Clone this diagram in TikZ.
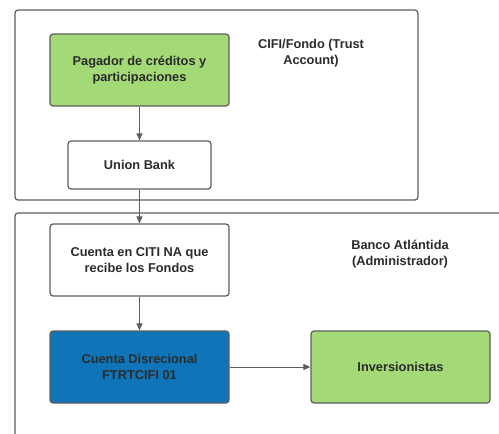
\documentclass[tikz,border=0pt]{standalone}
\usepackage{fontspec}
\setmainfont{Liberation Sans}
\usetikzlibrary{positioning,arrows.meta}
\definecolor{lgreen}{HTML}{A3D977}
\definecolor{dblue}{HTML}{0F75B8}
\definecolor{edge}{HTML}{5E5E5E}
\definecolor{ink}{HTML}{2B2B2B}

\begin{document}
\begin{tikzpicture}[x=1pt,y=-1pt,
    box/.style={draw=edge, line width=1.2pt, rounded corners=3pt, align=center,
      text=ink, font=\bfseries\fontsize{12.8}{16}\selectfont,
      minimum width=179pt, minimum height=72pt, inner sep=0pt},
    lbl/.style={align=center, text=ink, font=\bfseries\fontsize{12.8}{16}\selectfont},
    flow/.style={draw=edge, line width=1pt, -{Triangle[length=7pt,width=6pt]}}]

  \useasboundingbox (0,0) rectangle (499,434);
  \clip (0,0) rectangle (499,434);

  % frames
  \draw [edge, line width=1.2pt, rounded corners=3pt] (15,10) rectangle (418,200);
  \draw [edge, line width=1.2pt, rounded corners=3pt] (15,213) rectangle (520,460);

  % CIFI side
  \node [box, fill=lgreen] (pagador) at (139.5,70) {Pagador de créditos y\\participaciones};
  \node [box, fill=white, minimum width=143pt, minimum height=48pt] (union) at (139.5,165) {Union Bank};
  \node [lbl] (cifi) at (311,53) {CIFI/Fondo (Trust\\Account)};

  % Banco side
  \node [box, fill=white] (citi) at (139.5,260) {Cuenta en CITI NA que\\recibe los Fondos};
  \node [box, fill=dblue] (disc) at (139.5,367) {Cuenta Disrecional\\FTRTCIFI 01};
  \node [box, fill=lgreen] (inver) at (400.5,367) {Inversionistas};
  \node [lbl] (banco) at (400,254) {Banco Atlántida\\(Administrador)};

  \draw [flow] (pagador) -- (union);
  \draw [flow] (union) -- (citi);
  \draw [flow] (citi) -- (disc);
  \draw [flow] (disc) -- (inver);

\end{tikzpicture}
\end{document}
